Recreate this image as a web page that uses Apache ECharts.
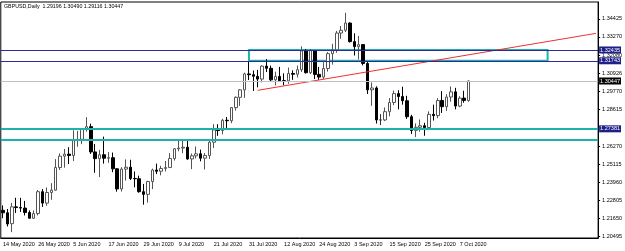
<!DOCTYPE html>
<html>
<head>
<meta charset="utf-8">
<script src="https://cdn.jsdelivr.net/npm/echarts@6/dist/echarts.min.js"></script>
<style>
html, body { margin: 0; padding: 0; background: #fff; }
#chart { width: 625px; height: 251px; }
</style>
</head>
<body>
<div id="chart"></div>
<script>
// GBPUSD daily, 14 May 2020 .. 9 Oct 2020
var opens = [
  1.2216, 1.2200, 1.2130, 1.2238, 1.2234, 1.2230, 1.2202, 1.2165, 1.2195, 1.2335,
  1.2262, 1.2330, 1.2345, 1.2490, 1.2563, 1.2576, 1.2567, 1.2668, 1.2671, 1.2735,
  1.2752, 1.2590, 1.2547, 1.2572, 1.2550, 1.2553, 1.2482, 1.2353, 1.2480, 1.2492,
  1.2420, 1.2418, 1.2335, 1.2318, 1.2400, 1.2474, 1.2466, 1.2484, 1.2490, 1.2548,
  1.2610, 1.2615, 1.2620, 1.2545, 1.2565, 1.2578, 1.2550, 1.2567, 1.2652, 1.2731,
  1.2727, 1.2793, 1.2790, 1.2874, 1.2940, 1.2988, 1.3090, 1.3085, 1.3075, 1.3057,
  1.3140, 1.3126, 1.3052, 1.3074, 1.3047, 1.3045, 1.3093, 1.3088, 1.3117, 1.3238,
  1.3098, 1.3240, 1.3087, 1.3070, 1.3125, 1.3220, 1.3245, 1.3352, 1.3370, 1.3416,
  1.3297, 1.3265, 1.3278, 1.3157, 1.2988, 1.3000, 1.2795, 1.2795, 1.2848, 1.2907,
  1.2964, 1.2945, 1.2918, 1.2816, 1.2728, 1.2748, 1.2758, 1.2746, 1.2831, 1.2823,
  1.2920, 1.2880, 1.2942, 1.2975, 1.2884, 1.2935, 1.29196
];
var highs = [
  1.2247, 1.2224, 1.2263, 1.2296, 1.2296, 1.2276, 1.2215, 1.2215, 1.2346, 1.2352,
  1.2362, 1.2390, 1.2544, 1.2580, 1.2609, 1.2620, 1.2729, 1.2725, 1.2742, 1.2813,
  1.2771, 1.2641, 1.2603, 1.2688, 1.2589, 1.2586, 1.2485, 1.2492, 1.2542, 1.2540,
  1.2465, 1.2438, 1.2385, 1.2405, 1.2483, 1.2515, 1.2501, 1.2532, 1.2582, 1.2615,
  1.2667, 1.2666, 1.2670, 1.2580, 1.2625, 1.2605, 1.2583, 1.2667, 1.2768, 1.2768,
  1.2802, 1.2814, 1.2878, 1.2946, 1.2993, 1.3098, 1.3170, 1.3112, 1.3116, 1.3145,
  1.3185, 1.3143, 1.3104, 1.3135, 1.3094, 1.3131, 1.3113, 1.3144, 1.3267, 1.3250,
  1.3250, 1.3244, 1.3135, 1.3165, 1.3230, 1.3283, 1.3366, 1.3397, 1.3482, 1.3421,
  1.3350, 1.3333, 1.3280, 1.3173, 1.3036, 1.3011, 1.2833, 1.2875, 1.2935, 1.2983,
  1.2986, 1.3008, 1.2950, 1.2828, 1.2773, 1.2798, 1.2777, 1.2850, 1.2893, 1.2935,
  1.2980, 1.2960, 1.3010, 1.3001, 1.2947, 1.2982, 1.30490
];
var lows = [
  1.2165, 1.2112, 1.2076, 1.2199, 1.2205, 1.2183, 1.2163, 1.2160, 1.2183, 1.2238,
  1.2245, 1.2283, 1.2341, 1.2474, 1.2489, 1.2512, 1.2532, 1.2623, 1.2640, 1.2720,
  1.2577, 1.2456, 1.2429, 1.2515, 1.2520, 1.2460, 1.2335, 1.2336, 1.2406, 1.2410,
  1.2363, 1.2329, 1.2252, 1.2265, 1.2352, 1.2448, 1.2440, 1.2465, 1.2489, 1.2535,
  1.2594, 1.2582, 1.2540, 1.2480, 1.2548, 1.2530, 1.2478, 1.2545, 1.2615, 1.2693,
  1.2703, 1.2738, 1.2774, 1.2855, 1.2885, 1.2937, 1.3051, 1.2981, 1.3004, 1.3036,
  1.3102, 1.3038, 1.3017, 1.3040, 1.3017, 1.3027, 1.3052, 1.3067, 1.3102, 1.3092,
  1.3089, 1.3057, 1.3052, 1.3058, 1.3105, 1.3150, 1.3226, 1.3316, 1.3359, 1.3291,
  1.3208, 1.3183, 1.3145, 1.2962, 1.2886, 1.2772, 1.2762, 1.2788, 1.2818, 1.2890,
  1.2863, 1.2893, 1.2802, 1.2705, 1.2686, 1.2720, 1.2694, 1.2736, 1.2791, 1.2806,
  1.2840, 1.2853, 1.2912, 1.2863, 1.2877, 1.2905, 1.29116
];
var closes = [
  1.2200, 1.2128, 1.2238, 1.2234, 1.2230, 1.2202, 1.2165, 1.2195, 1.2335, 1.2262,
  1.2330, 1.2345, 1.2490, 1.2563, 1.2576, 1.2567, 1.2668, 1.2671, 1.2735, 1.2752,
  1.2590, 1.2547, 1.2572, 1.2550, 1.2553, 1.2482, 1.2353, 1.2480, 1.2492, 1.2420,
  1.2418, 1.2335, 1.2318, 1.2400, 1.2474, 1.2466, 1.2484, 1.2490, 1.2548, 1.2610,
  1.2615, 1.2620, 1.2545, 1.2565, 1.2578, 1.2550, 1.2567, 1.2652, 1.2731, 1.2727,
  1.2793, 1.2790, 1.2874, 1.2940, 1.2988, 1.3090, 1.3085, 1.3075, 1.3057, 1.3140,
  1.3126, 1.3052, 1.3074, 1.3047, 1.3045, 1.3093, 1.3088, 1.3117, 1.3238, 1.3098,
  1.3240, 1.3087, 1.3070, 1.3125, 1.3220, 1.3245, 1.3352, 1.3370, 1.3416, 1.3297,
  1.3265, 1.3278, 1.3157, 1.2988, 1.3000, 1.2795, 1.2795, 1.2848, 1.2907, 1.2964,
  1.2945, 1.2918, 1.2816, 1.2728, 1.2748, 1.2758, 1.2746, 1.2831, 1.2823, 1.2920,
  1.2880, 1.2942, 1.2975, 1.2884, 1.2935, 1.2920, 1.30447
];

var yTicks = [1.20495, 1.21650, 1.22805, 1.23960, 1.25115, 1.26270, 1.28615,
              1.29770, 1.30926, 1.32080, 1.33270, 1.34425];
var navyLevels = [1.32435, 1.31743];
var cyanLevels = [1.27381, 1.26680];
var bidLevel = 1.30447;
var zoneBars = [56, 124];            // cyan rectangle, bar indexes
var trendPoints = [[58, 1.2985], [135, 1.3350]];
var futureSlots = 29;

var yMin = 1.20383, yMax = 1.35511;
var font = 'Liberation Sans';
var months = ['Jan','Feb','Mar','Apr','May','Jun','Jul','Aug','Sep','Oct','Nov','Dec'];

// trading days (Mon-Fri) from 14 May 2020
var cats = [];
var d = new Date(2020, 4, 14);
while (cats.length < closes.length) {
  var wd = d.getDay();
  if (wd !== 0 && wd !== 6) cats.push(d.getDate() + ' ' + months[d.getMonth()] + ' ' + d.getFullYear());
  d.setDate(d.getDate() + 1);
}
for (var k = 0; k < futureSlots; k++) cats.push('');

var candles = closes.map(function (c, i) { return [opens[i], c, lows[i], highs[i]]; });

function showDate(i) { return i % 8 === 0 && i < closes.length; }

function boxLabel(v, bg) {
  return {
    show: true, position: 'end', distance: 1,
    formatter: v.toFixed(5), color: '#fff', backgroundColor: bg,
    padding: [1, 1, 0, 1], fontSize: 5.5, fontFamily: font
  };
}

var levels = [];
navyLevels.forEach(function (v) {
  levels.push({ yAxis: v, lineStyle: { color: '#2b2b98', width: 1, type: 'solid' }, label: boxLabel(v, '#1f1f8a') });
});
levels.push({ yAxis: bidLevel, lineStyle: { color: '#c0c0c0', width: 1, type: 'solid' }, label: boxLabel(bidLevel, '#000') });
cyanLevels.forEach(function (v, i) {
  levels.push({ yAxis: v, lineStyle: { color: '#20b2aa', width: 2, type: 'solid' },
    label: i === 0 ? boxLabel(v, '#1f1f8a') : { show: false } });
});

var chart = echarts.init(document.getElementById('chart'));
var option = {
  animation: false,
  backgroundColor: '#fff',
  title: {
    text: 'GBPUSD,Daily  1.29196 1.30490 1.29116 1.30447',
    left: 4, top: 4, padding: 0,
    textStyle: { fontSize: 5.3, fontWeight: 'normal', color: '#000', fontFamily: font }
  },
  grid: { left: 0, right: 25, top: 2, bottom: 13, show: true, borderColor: '#000', borderWidth: 1 },
  xAxis: {
    type: 'category', data: cats, boundaryGap: true,
    axisLine: { lineStyle: { color: '#000', width: 1 } },
    axisTick: { alignWithLabel: true, interval: showDate, length: 2, lineStyle: { color: '#000' } },
    axisLabel: { interval: showDate, align: 'left', margin: 3, fontSize: 5.5, color: '#000', fontFamily: font },
    splitLine: { show: false }
  },
  yAxis: {
    type: 'value', position: 'right', min: yMin, max: yMax,
    axisLine: { show: true, lineStyle: { color: '#000' } },
    axisTick: { show: true, customValues: yTicks, length: 2, lineStyle: { color: '#000' } },
    axisLabel: {
      customValues: yTicks, margin: 4, fontSize: 5.5, color: '#000', fontFamily: font,
      formatter: function (v) { return v.toFixed(5); }
    },
    splitLine: { show: false }
  },
  series: [
    {
      type: 'candlestick', data: candles, barWidth: 3, z: 2,
      itemStyle: {
        color: '#fff', color0: '#000',
        borderColor: '#555', borderColor0: '#000', borderColorDoji: '#333', borderWidth: 1
      }
    },
    {
      type: 'line', data: trendPoints, z: 3, symbol: 'none', silent: true,
      lineStyle: { color: '#f03030', width: 1 },
      markLine: { silent: true, precision: 5, symbol: ['none', 'none'], animation: false, data: levels }
    },
    {
      type: 'line', data: [], z: 4, silent: true,
      markArea: {
        silent: true,
        itemStyle: { color: 'rgba(0,0,0,0)', borderColor: '#20b2aa', borderWidth: 2 },
        data: [[{ xAxis: zoneBars[0], yAxis: navyLevels[0] }, { xAxis: zoneBars[1], yAxis: navyLevels[1] }]]
      }
    }
  ]
};
chart.setOption(option);
</script>
</body>
</html>
